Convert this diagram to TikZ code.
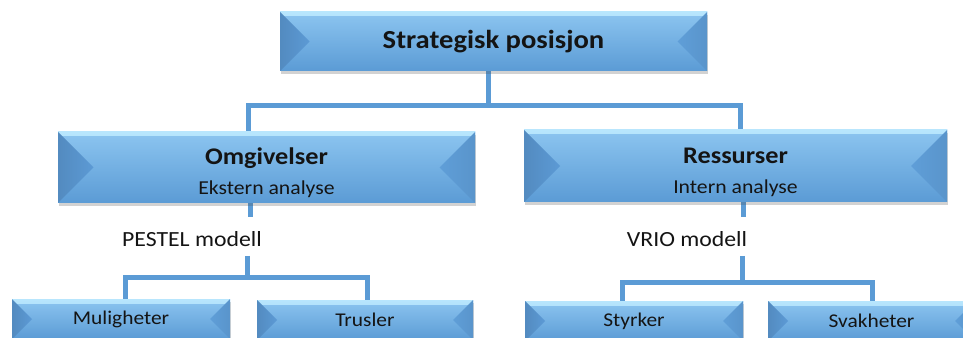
\documentclass[tikz,border=0pt]{standalone}
\usepackage{fontspec}
\setmainfont{Carlito}[FakeStretch=1.1]
\usetikzlibrary{calc,shadows}

\definecolor{facetop}{HTML}{8CC5F0}
\definecolor{facemid}{HTML}{6AA9E0}
\definecolor{facebot}{HTML}{5B9BD5}
\definecolor{rimhi}{HTML}{B8E6FD}
\definecolor{sidel}{HTML}{5C9AD5}
\definecolor{sider}{HTML}{5F9ED8}
\definecolor{linkblue}{HTML}{5B9BD5}
\definecolor{ink}{HTML}{141414}

\pgfdeclarelayer{paper}
\pgfdeclarelayer{links}
\pgfsetlayers{paper,links,main}

\tikzset{
  bevelbox/.style={
    rectangle, inner sep=0pt, text=ink, align=center,
    top color=facetop, middle color=facemid, bottom color=facebot,
    drop shadow={shadow xshift=0.8pt, shadow yshift=-2.6pt, opacity=0.25, fill=black!70},
    path picture={
      % light rim along the upper edge
      \shade[top color=rimhi, bottom color=facetop]
        let \p1=(path picture bounding box.south west),
            \p2=(path picture bounding box.north east) in
        (\x1,\y2) rectangle (\x2,{\y2-3pt});
      % left bevel facet
      \shade[left color=sidel!90!black, right color=sidel]
        let \p1=(path picture bounding box.south west),
            \p2=(path picture bounding box.north east),
            \n1={(\y2-\y1)/2} in
        (\x1,\y1) -- ({\x1+\n1},{\y1+\n1}) -- (\x1,\y2) -- cycle;
      % right bevel facet
      \shade[left color=sider, right color=sider!94!black]
        let \p1=(path picture bounding box.south west),
            \p2=(path picture bounding box.north east),
            \n1={(\y2-\y1)/2} in
        (\x2,\y1) -- ({\x2-\n1},{\y1+\n1}) -- (\x2,\y2) -- cycle;
    }
  },
  conn/.style={draw=linkblue, line width=3.75pt, line cap=butt, line join=miter},
  toptext/.style={font=\bfseries\fontsize{19.5}{23}\selectfont},
  midtext/.style={font=\fontsize{14.8}{20.5}\selectfont},
  modeltext/.style={font=\fontsize{16.2}{19}\selectfont, text=ink, inner sep=0pt, anchor=base},
  leaftext/.style={font=\fontsize{14.6}{17}\selectfont},
}

\begin{document}
\begin{tikzpicture}[x=0.75pt, y=-0.75pt]
  \useasboundingbox (0,0) rectangle (963,338);
  \begin{pgfonlayer}{paper}
    \fill[white] (0,0) rectangle (963,338);
  \end{pgfonlayer}
  \clip (0,0) rectangle (963,338);

  % boxes
  \node[bevelbox, toptext, minimum width=320.25pt, minimum height=44.25pt]
    (top) at (493.5,41.5) {Strategisk posisjon};
  \node[bevelbox, midtext, minimum width=312.75pt, minimum height=53.25pt]
    (omg) at (266.5,167.5) {\rule{0pt}{4pt}\\[-4pt]{\bfseries\fontsize{17.9}{20.5}\selectfont Omgivelser}\\[2pt]Ekstern analyse};
  \node[bevelbox, midtext, minimum width=317.25pt, minimum height=54pt]
    (res) at (735.5,166) {\rule{0pt}{4pt}\\[-4pt]{\bfseries\fontsize{17.9}{20.5}\selectfont Ressurser}\\[2pt]Intern analyse};
  \node[bevelbox, leaftext, minimum width=163.5pt, minimum height=30pt]
    (mul) at (121,319) {Muligheter};
  \node[bevelbox, leaftext, minimum width=162pt, minimum height=30pt]
    (tru) at (365,320) {Trusler};
  \node[bevelbox, leaftext, minimum width=163.5pt, minimum height=30pt]
    (sty) at (634,321) {Styrker};
  \node[bevelbox, leaftext, minimum width=155.25pt, minimum height=30pt]
    (sva) at (871.5,321) {Svakheter};

  % model labels
  \node[modeltext] (pestel) at (192,246.7) {PESTEL modell};
  \node[modeltext] (vrio) at (687,246.7) {VRIO modell};

  % junction points of the connector tree
  \coordinate (hubtop) at (488,106);
  \coordinate (hubl) at (248,106);
  \coordinate (hubr) at (740,106);
  \coordinate (omgstem) at (250,217);
  \coordinate (resstem) at (743,217);
  \coordinate (pestop) at (247,256);
  \coordinate (pesbar) at (247,277);
  \coordinate (pesl) at (125,277);
  \coordinate (pesr) at (367,277);
  \coordinate (vritop) at (742,256);
  \coordinate (vribar) at (742,282);
  \coordinate (vril) at (622,282);
  \coordinate (vrir) at (872,282);

  \begin{pgfonlayer}{links}
    \draw[conn] (top.south -| hubtop) -- (hubtop);
    \draw[conn] (omg.north -| hubl) -- (hubl) -- (hubr) -- (res.north -| hubr);
    \draw[conn] (omg.south -| omgstem) -- (omgstem);
    \draw[conn] (res.south -| resstem) -- (resstem);
    \draw[conn] (pestop) -- (pesbar);
    \draw[conn] (mul.north -| pesl) -- (pesl) -- (pesr) -- (tru.north -| pesr);
    \draw[conn] (vritop) -- (vribar);
    \draw[conn] (sty.north -| vril) -- (vril) -- (vrir) -- (sva.north -| vrir);
  \end{pgfonlayer}
\end{tikzpicture}
\end{document}
